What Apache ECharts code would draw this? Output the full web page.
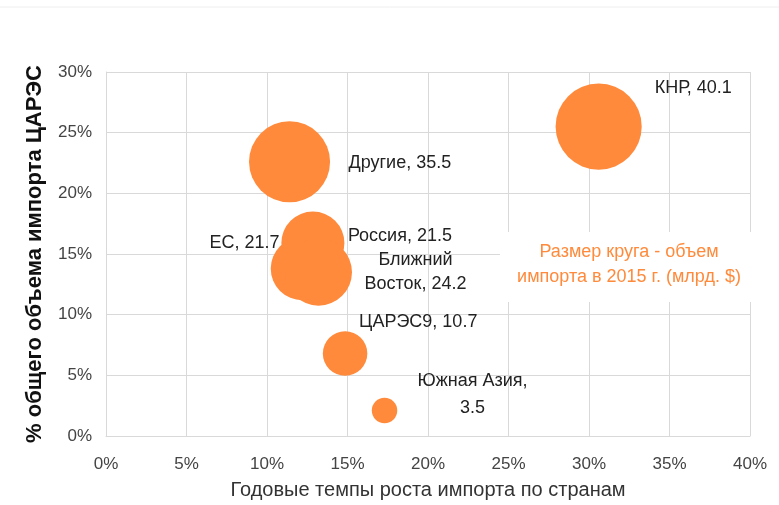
<!DOCTYPE html>
<html>
<head>
<meta charset="utf-8">
<script src="https://cdn.jsdelivr.net/npm/echarts@6/dist/echarts.min.js"></script>
<style>
  html, body { margin: 0; padding: 0; background: #fff; }
  #main { width: 779px; height: 505px; }
</style>
</head>
<body>
<div id="main"></div>
<script>
// данные диаграммы
const regions = ['КНР', 'Другие', 'ЕС', 'Россия', 'Ближний Восток', 'ЦАРЭС9', 'Южная Азия'];
const growth = [30.6, 11.4, 12.2, 12.85, 13.2, 14.85, 17.3];   // годовые темпы роста, %
const share = [25.5, 22.6, 13.8, 15.9, 13.5, 6.8, 2.1];        // доля в импорте ЦАРЭС, %
const volume = [40.1, 35.5, 21.7, 21.5, 24.2, 10.7, 3.5];      // объем импорта, млрд $
const labelText = ['КНР, 40.1', 'Другие, 35.5', 'ЕС, 21.7', 'Россия, 21.5',
  'Ближний\nВосток, 24.2', 'ЦАРЭС9, 10.7', 'Южная Азия,\n3.5'];
const xTicks = [0, 5, 10, 15, 20, 25, 30, 35, 40];
const yTicks = [0, 5, 10, 15, 20, 25, 30];

const orange = '#ff8a3b';
const font = 'Liberation Sans, Arial, sans-serif';

// где ставить подписи (смещение от центра круга)
const labelStyle = [
  {align: 'left', offset: [56, -39], lh: 24},
  {align: 'left', offset: [59, 1], lh: 24},
  {align: 'right', offset: [-23, -26], lh: 24},
  {align: 'left', offset: [35, -7], lh: 24},
  {align: 'center', offset: [97, 0], lh: 24},
  {align: 'left', offset: [14, -31], lh: 24},
  {align: 'center', offset: [88, -16], lh: 27}
];

const chart = echarts.init(document.getElementById('main'));

const points = regions.map((name, i) => ({
  name: name,
  value: [growth[i], share[i], volume[i]],
  label: {
    show: true,
    position: 'inside',
    formatter: labelText[i],
    align: labelStyle[i].align,
    offset: labelStyle[i].offset,
    color: '#222',
    fontSize: 18,
    fontFamily: font,
    lineHeight: labelStyle[i].lh
  }
}));

const option = {
  backgroundColor: '#fff',
  animation: false,
  grid: { left: 106, right: 29, top: 72, bottom: 66 },
  xAxis: {
    type: 'value',
    min: xTicks[0],
    max: xTicks[xTicks.length - 1],
    interval: 5,
    name: 'Годовые темпы роста импорта по странам',
    nameLocation: 'middle',
    nameGap: 44,
    nameTextStyle: { color: '#333', fontSize: 20, fontFamily: font },
    axisLine: { show: true, lineStyle: { color: '#d9d9d9' } },
    axisTick: { show: false },
    axisLabel: { color: '#444', fontSize: 17, fontFamily: font, margin: 20, formatter: '{value}%' },
    splitLine: { show: true, lineStyle: { color: '#d9d9d9' } }
  },
  yAxis: {
    type: 'value',
    min: yTicks[0],
    max: yTicks[yTicks.length - 1],
    interval: 5,
    name: '% общего объема импорта ЦАРЭС',
    nameLocation: 'middle',
    nameGap: 60,
    nameTextStyle: { color: '#111', fontSize: 22, fontWeight: 'bold', fontFamily: font },
    axisLine: { show: true, lineStyle: { color: '#d9d9d9' } },
    axisTick: { show: false },
    axisLabel: { color: '#444', fontSize: 17, fontFamily: font, margin: 14, formatter: '{value}%' },
    splitLine: { show: true, lineStyle: { color: '#d9d9d9' } }
  },
  series: [{
    type: 'scatter',
    data: points,
    symbolSize: d => Math.sqrt(d[2]) * 13.6,
    itemStyle: { color: orange, opacity: 1 },
    z: 3
  }],
  graphic: [
    {
      type: 'rect',
      shape: { x: 500, y: 232, width: 260, height: 70 },
      style: { fill: '#fff' },
      z: 10
    },
    {
      type: 'text',
      x: 629,
      y: 265,
      style: {
        text: 'Размер круга - объем\nимпорта в 2015 г. (млрд. $)',
        fill: orange,
        font: '18px ' + font,
        align: 'center',
        verticalAlign: 'middle',
        lineHeight: 25
      },
      z: 11
    },
    {
      type: 'line',
      shape: { x1: 0, y1: 7, x2: 779, y2: 7 },
      style: { stroke: '#eee', lineWidth: 1 },
      z: 1
    }
  ]
};

chart.setOption(option);
</script>
</body>
</html>
